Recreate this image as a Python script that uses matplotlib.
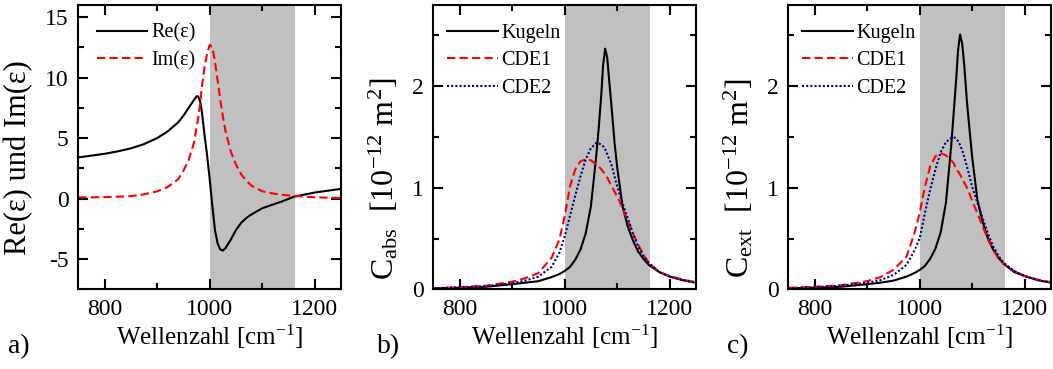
import matplotlib
matplotlib.use("Agg")
import matplotlib.pyplot as plt
from matplotlib.ticker import MultipleLocator

plt.rcParams['font.family'] = ['Liberation Serif', 'DejaVu Serif']
plt.rcParams['mathtext.fontset'] = 'custom'
plt.rcParams['mathtext.rm'] = 'Liberation Serif'
plt.rcParams['mathtext.it'] = 'Liberation Serif:italic'
plt.rcParams['mathtext.default'] = 'rm'
plt.rcParams['axes.unicode_minus'] = False

# panel a: dielectric function
wn_eps = [750, 775, 800, 825, 850, 875, 900, 920, 940, 950, 960, 970, 975, 978, 982,
          985, 990, 995, 1000, 1005, 1010, 1015, 1020, 1025, 1030, 1040, 1050, 1060,
          1070, 1080, 1100, 1120, 1140, 1160, 1200, 1250]
re_eps = [3.4, 3.55, 3.7, 3.9, 4.15, 4.5, 5.0, 5.55, 6.3, 6.85, 7.5, 8.15, 8.45, 8.45,
          8.0, 7.2, 5.3, 3.6, 1.6, -0.6, -2.6, -3.7, -4.2, -4.3, -4.1, -3.4, -2.6,
          -2.0, -1.6, -1.3, -0.8, -0.5, -0.2, 0.15, 0.5, 0.8]
im_eps = [0.1, 0.1, 0.12, 0.15, 0.2, 0.35, 0.6, 0.95, 1.6, 2.3, 3.2, 4.6, 5.9, 6.6,
          7.9, 9.2, 10.8, 12.0, 12.7, 12.5, 11.3, 9.8, 8.2, 6.8, 5.6, 3.9, 2.8, 2.0,
          1.45, 1.05, 0.6, 0.42, 0.3, 0.22, 0.1, 0.05]

# panels b and c: cross sections
wn = [750, 800, 850, 900, 925, 950, 975, 990, 1000, 1010, 1020, 1030, 1040, 1050,
      1060, 1065, 1070, 1073, 1077, 1081, 1085, 1090, 1095, 1100, 1110, 1120, 1130,
      1140, 1150, 1160, 1180, 1200, 1225, 1250]
abs_kugeln = [0.01, 0.015, 0.025, 0.05, 0.065, 0.08, 0.12, 0.15, 0.18, 0.22, 0.29,
              0.39, 0.55, 0.82, 1.31, 1.6, 1.94, 2.2, 2.37, 2.28, 2.04, 1.75, 1.44,
              1.2, 0.82, 0.62, 0.48, 0.37, 0.3, 0.24, 0.17, 0.125, 0.09, 0.065]
abs_cde1 = [0.01, 0.02, 0.035, 0.075, 0.11, 0.16, 0.31, 0.49, 0.72, 1.01, 1.18, 1.26,
            1.28, 1.27, 1.23, 1.21, 1.18, 1.16, 1.13, 1.1, 1.06, 1.01, 0.96, 0.915,
            0.8, 0.68, 0.55, 0.44, 0.34, 0.26, 0.17, 0.13, 0.095, 0.07]
abs_cde2 = [0.01, 0.02, 0.03, 0.06, 0.085, 0.125, 0.22, 0.36, 0.52, 0.72, 0.92, 1.11,
            1.28, 1.39, 1.44, 1.44, 1.42, 1.41, 1.38, 1.33, 1.28, 1.21, 1.11, 1.01,
            0.85, 0.7, 0.55, 0.42, 0.33, 0.26, 0.17, 0.125, 0.09, 0.065]
ext_kugeln = [0.01, 0.015, 0.025, 0.05, 0.065, 0.085, 0.125, 0.16, 0.19, 0.23, 0.3,
              0.4, 0.56, 0.85, 1.41, 1.75, 2.1, 2.35, 2.51, 2.42, 2.2, 1.85, 1.57,
              1.3, 0.88, 0.66, 0.5, 0.39, 0.31, 0.25, 0.17, 0.13, 0.09, 0.065]
ext_cde1 = [0.015, 0.025, 0.04, 0.08, 0.12, 0.19, 0.32, 0.55, 0.75, 1.01, 1.21, 1.31,
            1.34, 1.32, 1.27, 1.24, 1.18, 1.16, 1.13, 1.09, 1.05, 1.0, 0.94, 0.87,
            0.75, 0.62, 0.49, 0.39, 0.31, 0.25, 0.18, 0.13, 0.095, 0.07]
ext_cde2 = [0.01, 0.02, 0.035, 0.065, 0.09, 0.14, 0.24, 0.38, 0.5, 0.75, 0.98, 1.18,
            1.35, 1.45, 1.49, 1.5, 1.48, 1.46, 1.42, 1.37, 1.3, 1.21, 1.11, 1.01,
            0.85, 0.7, 0.55, 0.42, 0.33, 0.26, 0.18, 0.13, 0.09, 0.065]

band = (1000, 1162)
xlabel = 'Wellenzahl [cm$^{-1}$]'
legend_kw = dict(loc='upper left', frameon=False, fontsize=14.5, handlelength=2.5,
                 handletextpad=0.2, labelspacing=0.42, borderpad=0, borderaxespad=0)


def style_axes(ax):
    ax.set_xlim(750, 1250)
    ax.axvspan(*band, color='#c0c0c0', lw=0, zorder=0)
    ax.xaxis.set_major_locator(MultipleLocator(200))
    ax.xaxis.set_minor_locator(MultipleLocator(100))
    ax.tick_params(which='both', direction='in', top=True, right=True,
                   labelsize=17, width=1.5)
    ax.tick_params(which='major', length=7, pad=7)
    ax.tick_params(which='minor', length=4)
    for s in ax.spines.values():
        s.set_linewidth(1.5)
        s.set_zorder(5)
    ax.set_xlabel(xlabel, fontsize=18, labelpad=2)


fig = plt.figure(figsize=(10.53, 3.69), dpi=100)
bottom, height, width = 0.216, 0.7705, 0.2495

ax1 = fig.add_axes([0.0744, bottom, width, height])
ax1.plot(wn_eps, re_eps, color='black', lw=1.5, label='Re(ε)')
ax1.plot(wn_eps, im_eps, color='red', lw=1.5, dashes=(4, 2), label='Im(ε)')
style_axes(ax1)
ax1.set_ylim(-7.5, 16)
ax1.yaxis.set_major_locator(MultipleLocator(5))
ax1.yaxis.set_minor_locator(MultipleLocator(2.5))
ax1.set_ylabel('Re(ε) und Im(ε)', fontsize=22)
ax1.yaxis.set_label_coords(-0.172, 0.462)
ax1.legend(bbox_to_anchor=(0.071, 0.935), **legend_kw)

panels = [(0.4115, abs_kugeln, abs_cde1, abs_cde2, 'abs'),
          (0.7486, ext_kugeln, ext_cde1, ext_cde2, 'ext')]
for left, kug, cde1, cde2, sub in panels:
    ax = fig.add_axes([left, bottom, width, height])
    ax.plot(wn, kug, color='black', lw=1.5, label='Kugeln')
    ax.plot(wn, cde1, color='red', lw=1.5, dashes=(4, 2), label='CDE1')
    ax.plot(wn, cde2, color='#000080', lw=1.5, dashes=(1, 1), label='CDE2')
    style_axes(ax)
    ax.set_ylim(0, 2.8)
    ax.yaxis.set_major_locator(MultipleLocator(1))
    ax.yaxis.set_minor_locator(MultipleLocator(0.5))
    ax.set_ylabel('C$_{%s}$  [10$^{-12}$ m$^2$]' % sub, fontsize=23)
    ax.yaxis.set_label_coords(-0.123, 0.39)
    ax.legend(bbox_to_anchor=(0.053, 0.935), **legend_kw)

for x, t in [(8, 'a)'), (377, 'b)'), (727, 'c)')]:
    fig.text(x / 1053, 1 - 353 / 369, t, fontsize=20, va='baseline', ha='left')

fig.savefig('out.png', dpi=100)
